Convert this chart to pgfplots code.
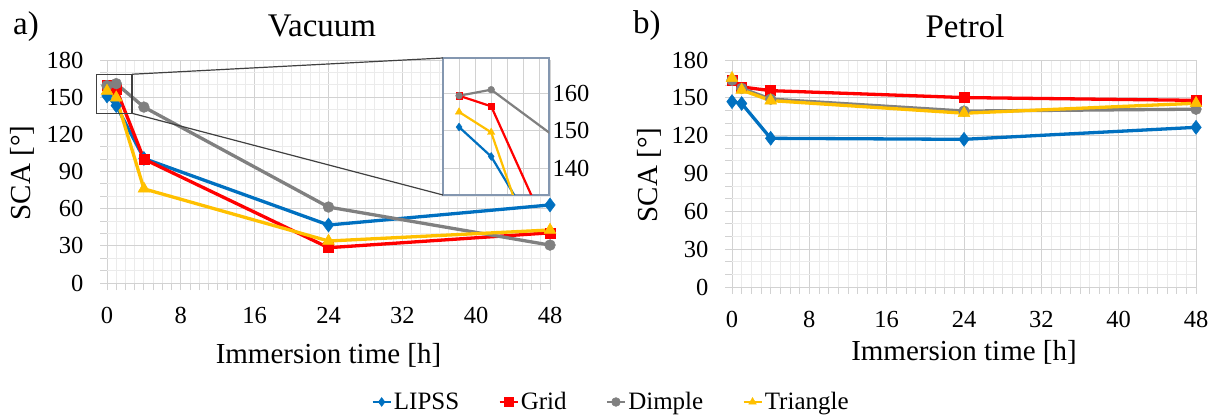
\documentclass[border=0pt]{standalone}
\usepackage{fontspec}
\setmainfont{Liberation Serif}
\usepackage{pgfplots}
\pgfplotsset{compat=1.18}
\usepackage{pgfplotstable}

\definecolor{clipss}{RGB}{0,112,192}
\definecolor{cgrid}{RGB}{255,0,0}
\definecolor{cdimple}{RGB}{128,128,128}
\definecolor{ctri}{RGB}{255,192,0}
\definecolor{gridmaj}{RGB}{210,210,210}
\definecolor{gridmin}{RGB}{235,235,235}
\definecolor{insetframe}{RGB}{132,151,176}

% contact angle vs immersion time
\pgfplotstableread{
t  LIPSS Grid  Dimple Triangle
0  151.0 159.3 159.3  155.0
1  143.2 156.5 160.9  149.6
4  100.5 100.0 142.0  76.0
24 46.8  28.5  61.3   33.9
48 63.0  40.5  30.6   42.8
}\vacuum

\pgfplotstableread{
t  LIPSS Grid  Dimple Triangle
0  147.0 164.2 164.0  165.5
1  145.5 158.6 157.5  156.2
4  117.9 155.7 149.0  147.8
24 117.1 150.2 139.5  137.8
48 126.6 148.0 141.0  145.7
}\petrol

\pgfplotsset{
  lipss/.style={color=clipss, mark=diamond*, mark size=#1},
  lipss/.default=7bp,
  grd/.style={color=cgrid, mark=square*, mark size=#1},
  grd/.default=5bp,
  dimple/.style={color=cdimple, mark=*, mark size=#1},
  dimple/.default=5.4bp,
  tri/.style={color=ctri, mark=triangle*, mark size=#1},
  tri/.default=6.8bp,
  sca/.style={
    scale only axis,
    xmin=0, xmax=48, ymin=0, ymax=180,
    xtick={0,8,...,48}, ytick={0,30,...,180},
    minor x tick num=7, minor y tick num=2,
    grid=both,
    major grid style={gridmaj, line width=0.9bp},
    minor grid style={gridmin, line width=0.9bp},
    axis line style={draw=none},
    tick pos=left, tick align=outside,
    major tick length=7bp, minor tick length=7bp,
    every tick/.style={gridmaj, line width=0.9bp},
    ticklabel style={font=\fontsize{24.5bp}{28bp}\selectfont},
    /pgf/number format/assume math mode=true,
    yticklabel shift=13bp, xticklabel shift=14bp,
    clip=false,
    every axis plot/.append style={line width=3.3bp, mark options={solid, line width=0.5bp}},
  },
}

\begin{document}
\begin{tikzpicture}
\useasboundingbox (0,0) rectangle (1218bp,417bp);

\begin{axis}[sca, name=vac,
  at={(107bp,134bp)}, anchor=south west, width=443bp, height=223bp,
  legend columns=4,
  legend style={at={(1.1377,-0.5336)}, anchor=center, draw=none, fill=none,
    font=\fontsize{25bp}{28bp}\selectfont,
    /tikz/every even column/.append style={column sep=37bp}},
  legend image code/.code={\draw[#1, line width=2.6bp, mark size=4.4bp, mark repeat=2, mark phase=2]
    plot coordinates {(0bp,0bp) (9bp,0bp) (18bp,0bp)};},
]
\addplot[lipss] table[x=t, y=LIPSS] {\vacuum};
\addlegendentry{LIPSS}
\addplot[grd] table[x=t, y=Grid] {\vacuum};
\addlegendentry{Grid}
\addplot[dimple] table[x=t, y=Dimple] {\vacuum};
\addlegendentry{Dimple}
\addplot[tri] table[x=t, y=Triangle] {\vacuum};
\addlegendentry{Triangle}
\draw[black!75, line width=1.2bp] (axis cs:-1.1,137) rectangle (axis cs:2.7,168.5);
\coordinate (zt) at (axis cs:2.7,168.5);
\coordinate (zb) at (axis cs:2.7,137);
\end{axis}

% zoomed view of the first hour
\begin{axis}[name=inset, scale only axis,
  at={(443bp,222bp)}, anchor=south west, width=106bp, height=137bp,
  xmin=-0.5, xmax=2.8, ymin=133, ymax=169.3,
  xtick={0,0.5,...,2.5}, xticklabels={},
  ytick={140,150,160}, yticklabel pos=right,
  grid=major, major grid style={gridmaj, line width=0.8bp},
  major tick length=0pt,
  axis line style={insetframe, line width=1.4bp},
  axis background/.style={fill=white},
  ticklabel style={font=\fontsize{24.5bp}{28bp}\selectfont},
  /pgf/number format/assume math mode=true,
  every axis plot/.append style={line width=2.2bp, mark options={solid, line width=0.4bp}},
]
\addplot[lipss=4bp] table[x=t, y=LIPSS] {\vacuum};
\addplot[grd=3.2bp] table[x=t, y=Grid] {\vacuum};
\addplot[dimple=3.4bp] table[x=t, y=Dimple] {\vacuum};
\addplot[tri=4.3bp] table[x=t, y=Triangle] {\vacuum};
\end{axis}
\draw[black!75, line width=1.2bp] (zt) -- (inset.north west) (zb) -- (inset.south west);

\begin{axis}[sca, name=pet,
  at={(732bp,130bp)}, anchor=south west, width=464bp, height=227bp,
]
\addplot[lipss] table[x=t, y=LIPSS] {\petrol};
\addplot[grd] table[x=t, y=Grid] {\petrol};
\addplot[dimple] table[x=t, y=Dimple] {\petrol};
\addplot[tri] table[x=t, y=Triangle] {\petrol};
\end{axis}

\node[anchor=west, inner sep=0pt, font=\fontsize{33bp}{36bp}\selectfont] at (13bp,390bp) {a)};
\node[inner sep=0pt, font=\fontsize{33bp}{36bp}\selectfont] at (322bp,391bp) {Vacuum};
\node[anchor=west, inner sep=0pt, font=\fontsize{33bp}{36bp}\selectfont] at (633bp,391bp) {b)};
\node[inner sep=0pt, font=\fontsize{33bp}{36bp}\selectfont] at (965bp,391bp) {Petrol};
\node[rotate=90, inner sep=0pt, font=\fontsize{29bp}{32bp}\selectfont] at (22bp,244bp) {SCA [°]};
\node[rotate=90, inner sep=0pt, font=\fontsize{29bp}{32bp}\selectfont] at (649bp,242bp) {SCA [°]};
\node[inner sep=0pt, font=\fontsize{29bp}{32bp}\selectfont] at (328.5bp,62bp) {Immersion time [h]};
\node[inner sep=0pt, font=\fontsize{29bp}{32bp}\selectfont] at (964bp,65bp) {Immersion time [h]};
\end{tikzpicture}
\end{document}
